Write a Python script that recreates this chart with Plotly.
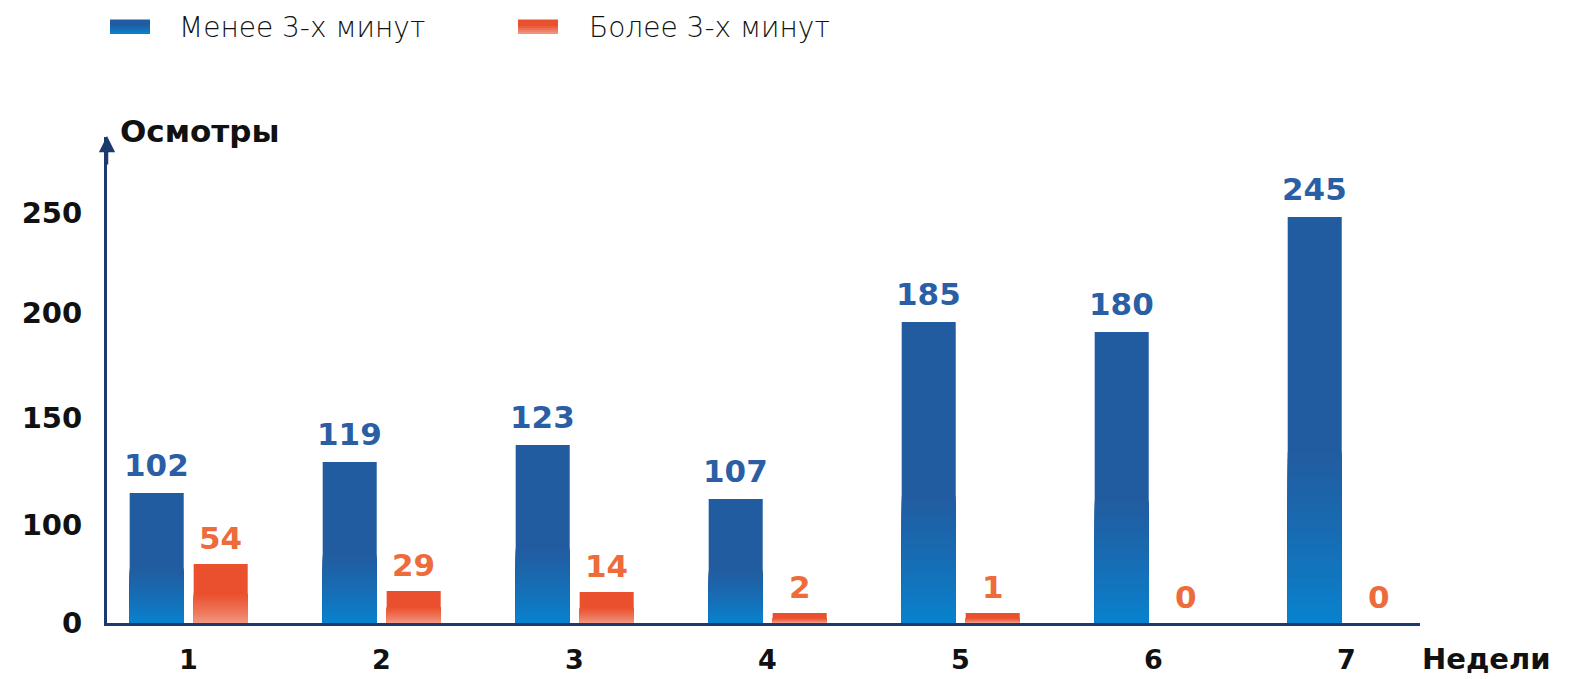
import plotly.graph_objects as go

# ---------------- data ----------------
weeks = [1, 2, 3, 4, 5, 6, 7]
week_labels = ["1", "2", "3", "4", "5", "6", "7"]
series_names = ["Менее 3-х минут", "Более 3-х минут"]

# numbers printed above the bars
less3_values = [102, 119, 123, 107, 185, 180, 245]
more3_values = [54, 29, 14, 2, 1, 0, 0]

# bar heights as drawn on the chart's own (non-proportional) vertical scale
less3_heights = [130, 161, 178, 124, 301, 291, 406]
more3_heights = [59, 32, 31, 10, 10, 0, 0]

y_tick_positions = [0, 98, 205, 310, 410]
y_tick_labels = ["0", "100", "150", "200", "250"]

# ---------------- style ----------------
W, H = 1572, 679
ML, MR, MT, MB = 107, 152, 137, 56
PW, PH = W - ML - MR, H - MT - MB
FONT = "DejaVu Sans"
NAVY = "#1d3a6e"
BLUE_TOP, BLUE_BOTTOM = "#225ca0", "#0784d0"
ORANGE_TOP, ORANGE_BOTTOM = "#ea502d", "#f29a84"
BLUE_TEXT, ORANGE_TEXT = "#2a5fa5", "#ee6b3c"

BAR_W = 0.28
BLUE_OFF = -0.3045
ORANGE_OFF = 0.027
X_RANGE = [0.578, 7.381]


def hex2rgb(h):
    h = h.lstrip("#")
    return [int(h[i:i + 2], 16) for i in (0, 2, 4)]


def mix(c_bottom, c_top, t):
    a, b = hex2rgb(c_bottom), hex2rgb(c_top)
    return "rgb(%d,%d,%d)" % tuple(round(a[i] + (b[i] - a[i]) * t) for i in range(3))


def px_x(p):
    return (p - ML) / PW


def px_y(p):
    return (H - MB - p) / PH


fig = go.Figure()


def add_gradient_series(heights, offset, c_top, c_bottom, frac, name, n=30):
    fig.add_trace(go.Bar(
        x=weeks, y=heights, width=BAR_W, offset=offset, name=name,
        marker=dict(color=c_top, line=dict(width=0)), showlegend=False,
        hovertemplate=name + ": %{y}<extra></extra>"))
    for j in range(n):
        top = frac * (n - j) / n
        t = (top - frac / (2 * n)) / frac
        fig.add_trace(go.Bar(
            x=weeks, y=[h * top for h in heights], width=BAR_W, offset=offset,
            marker=dict(color=mix(c_bottom, c_top, t ** 0.8), line=dict(width=0)),
            showlegend=False, hoverinfo="skip"))


add_gradient_series(less3_heights, BLUE_OFF, BLUE_TOP, BLUE_BOTTOM, 0.42, series_names[0])
add_gradient_series(more3_heights, ORANGE_OFF, ORANGE_TOP, ORANGE_BOTTOM, 0.5, series_names[1])

annotations = []
for w, h, v in zip(weeks, less3_heights, less3_values):
    annotations.append(dict(x=w + BLUE_OFF + BAR_W / 2, y=h, xref="x", yref="y",
                            text=str(v), showarrow=False, yanchor="bottom", yshift=8,
                            font=dict(family=FONT, size=31, color=BLUE_TEXT, weight="bold")))
for w, h, v in zip(weeks, more3_heights, more3_values):
    annotations.append(dict(x=w + ORANGE_OFF + BAR_W / 2, y=h, xref="x", yref="y",
                            text=str(v), showarrow=False, yanchor="bottom", yshift=6,
                            font=dict(family=FONT, size=31, color=ORANGE_TEXT, weight="bold")))

# axis titles
annotations.append(dict(x=px_x(118), y=px_y(131), xref="paper", yref="paper", text="Осмотры",
                        showarrow=False, xanchor="left", yanchor="middle",
                        font=dict(family=FONT, size=31, color="#111111", weight="bold")))
annotations.append(dict(x=px_x(1420), y=px_y(659), xref="paper", yref="paper", text="Недели",
                        showarrow=False, xanchor="left", yanchor="middle",
                        font=dict(family=FONT, size=29, color="#111111", weight="bold")))
# arrow head on the y axis
annotations.append(dict(x=0, y=px_y(136), xref="paper", yref="paper", text="", showarrow=True,
                        ax=0, ay=30, arrowhead=2, arrowsize=1.3, arrowwidth=2.5,
                        arrowcolor=NAVY, standoff=0))

# custom legend
legend_items = [(110, 177, BLUE_TOP, BLUE_BOTTOM, series_names[0]),
                (518, 587, ORANGE_TOP, ORANGE_BOTTOM, series_names[1])]
shapes = []
for sx, tx, ctop, cbot, label in legend_items:
    nb = 7
    for k in range(nb):
        y0 = -7 + 14 * k / nb
        y1 = -7 + 14 * (k + 1) / nb
        t = (k + 0.5) / nb
        shapes.append(dict(type="rect", xref="paper", yref="paper",
                           xsizemode="pixel", ysizemode="pixel",
                           xanchor=px_x(sx), yanchor=px_y(27),
                           x0=0, x1=40, y0=y0, y1=y1 + 0.5,
                           fillcolor=mix(cbot, ctop, min(1, t * 1.6)), line=dict(width=0)))
    annotations.append(dict(x=px_x(tx), y=px_y(27), xref="paper", yref="paper", text=label,
                            showarrow=False, xanchor="left", yanchor="middle",
                            font=dict(family=FONT, size=28, color="#111111", weight=200)))

fig.update_layout(
    width=W, height=H,
    margin=dict(l=ML, r=MR, t=MT, b=MB, pad=0, autoexpand=False),
    paper_bgcolor="white", plot_bgcolor="white",
    barmode="overlay", showlegend=False,
    annotations=annotations, shapes=shapes,
    xaxis=dict(range=X_RANGE, tickvals=weeks, ticktext=week_labels, showgrid=False,
               zeroline=False, showline=True, linecolor=NAVY, linewidth=3, ticks="",
               ticklabelstandoff=11, automargin=False,
               tickfont=dict(family=FONT, size=27, color="#111111", weight="bold")),
    yaxis=dict(range=[0, PH], tickvals=y_tick_positions, ticktext=y_tick_labels,
               showgrid=False, zeroline=False, showline=True, linecolor=NAVY, linewidth=3,
               ticks="", ticklabelstandoff=16, automargin=False,
               tickfont=dict(family=FONT, size=29, color="#111111", weight="bold")),
)

fig.write_html(
    "out.html",
    config={"displayModeBar": False},
    post_script="document.body.style.margin='0';document.documentElement.style.overflow='hidden';",
)
